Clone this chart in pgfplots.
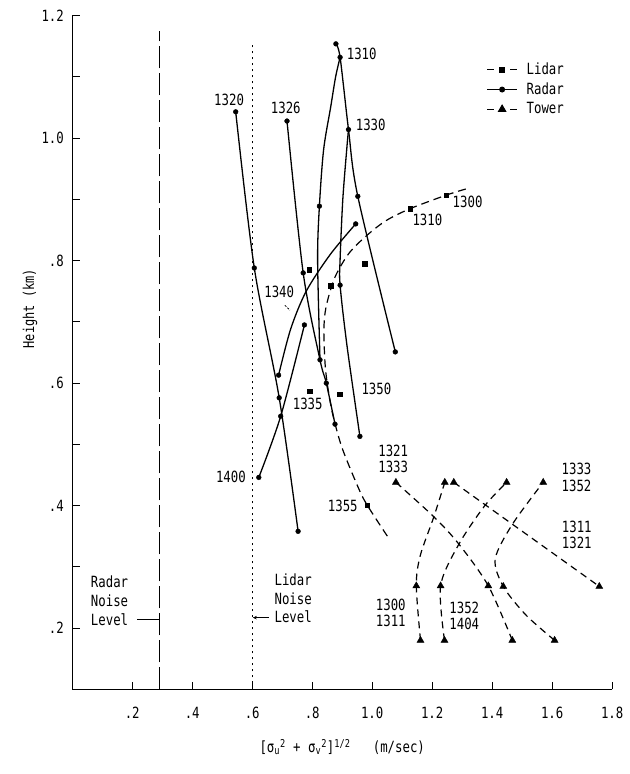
\documentclass[border=0pt]{standalone}
\usepackage{fontspec}
\setmainfont{DejaVu Sans Mono}[FakeStretch=0.8]
\usepackage{pgfplots}
\pgfplotsset{compat=1.18}
\usetikzlibrary{arrows.meta}

\begin{document}
\fontsize{15.5}{16.5}\selectfont
\begin{tikzpicture}
\useasboundingbox (-72.2bp,-84.7bp) rectangle (557.8bp,689.3bp);
\begin{axis}[
    scale only axis,
    width=540bp, height=673.6bp,
    xmin=0, xmax=1.8, ymin=0.1, ymax=1.2,
    axis lines=left,
    axis line style={-, line width=1.1bp},
    tick align=inside,
    major tick length=7.5bp, minor tick length=7.5bp,
    tick style={line width=1bp, black},
    xtick={0.2,0.4,0.6,0.8,1.0,1.2,1.4,1.6,1.8},
    xticklabels={.2,.4,.6,.8,1.0,1.2,1.4,1.6,1.8},
    ytick={0.2,0.4,0.6,0.8,1.0,1.2},
    yticklabels={.2,.4,.6,.8,1.0,1.2},
    minor ytick={0.3,0.5,0.7,0.9,1.1},
    xticklabel style={anchor=base, yshift=-29.5bp},
    yticklabel style={anchor=east, xshift=-3bp},
    xlabel={[σ\textsubscript{u}\textsuperscript{2} + σ\textsubscript{v}\textsuperscript{2}]\textsuperscript{1/2}\ \ \ (m/sec)},
    ylabel={Height (km)},
    every axis x label/.style={at={(rel axis cs:0.5,0)}, anchor=center, yshift=-58bp},
    every axis y label/.style={at={(rel axis cs:-0.078,0.565)}, rotate=90, anchor=center, font=\fontsize{15}{16}\selectfont},
    legend style={draw=none, fill=none, at={(rel axis cs:0.767,0.934)}, anchor=north west,
        inner sep=0pt, row sep=0.7bp, nodes={inner sep=2bp, text height=12bp, text depth=3bp},
        /tikz/every odd column/.style={column sep=7bp}},
    legend cell align=left,
    legend image code/.code={\draw[mark repeat=2, mark phase=2, #1] plot coordinates {(0bp,0bp) (15bp,0bp) (30bp,0bp)};},
    clip=false,
    radar/.style={black, line width=1.3bp, smooth, no marks},
    lidar/.style={black, line width=1.2bp, smooth, no marks, dash pattern=on 8bp off 5bp},
    tower/.style={black, line width=1.2bp, smooth, no marks, dash pattern=on 7bp off 5bp},
]
\addlegendimage{black, line width=1.1bp, dash pattern=on 7bp off 16bp, mark=square*, mark size=2.2bp, mark options={solid}}
\addlegendimage{black, line width=1.1bp, mark=*, mark size=2.4bp}
\addlegendimage{black, line width=1.1bp, dash pattern=on 7bp off 16bp, mark=triangle*, mark size=4bp, mark options={solid}}
\legend{Lidar, Radar, Tower}

% noise levels
\addplot[black, line width=1.2bp, dash pattern=on 22bp off 5bp] coordinates {(0.29,0.1) (0.29,1.175)};
\addplot[black, line width=1.3bp, dash pattern=on 2bp off 4bp] coordinates {(0.6,0.1) (0.6,1.152)};

% radar profiles
\addplot[radar] coordinates {(0.545,1.043) (0.607,0.788) (0.690,0.576) (0.753,0.358)};
\addplot[radar] coordinates {(0.716,1.028) (0.770,0.780) (0.826,0.638) (0.847,0.600) (0.876,0.533)};
\addplot[radar] coordinates {(0.879,1.154) (0.893,1.132) (0.921,1.014) (0.952,0.905) (1.077,0.651)};
\addplot[radar] coordinates {(0.893,1.132) (0.878,1.100) (0.862,1.052) (0.838,0.981) (0.824,0.889) (0.818,0.802) (0.826,0.638)};
\addplot[radar] coordinates {(0.921,1.014) (0.916,0.987) (0.902,0.900) (0.893,0.802) (0.893,0.760) (0.916,0.661) (0.959,0.513)};
\addplot[radar] coordinates {(0.945,0.860) (0.860,0.810) (0.780,0.750) (0.728,0.688) (0.688,0.613)};
\addplot[radar] coordinates {(0.622,0.446) (0.695,0.546) (0.774,0.695)};
\addplot[only marks, mark=*, mark size=2.4bp, black] coordinates {
  (0.545,1.043) (0.607,0.788) (0.690,0.576) (0.753,0.358)
  (0.716,1.028) (0.770,0.780) (0.826,0.638) (0.847,0.600) (0.876,0.533)
  (0.879,1.154) (0.893,1.132) (0.921,1.014) (0.952,0.905) (1.077,0.651)
  (0.824,0.889) (0.893,0.760) (0.959,0.513) (0.945,0.860) (0.688,0.613)
  (0.622,0.446) (0.695,0.546) (0.774,0.695)};

% lidar
\addplot[lidar] coordinates {(1.312,0.917) (1.247,0.907) (1.127,0.885) (1.045,0.865) (0.977,0.839)
  (0.921,0.811) (0.875,0.772) (0.846,0.724) (0.839,0.686) (0.843,0.631) (0.852,0.593)
  (0.868,0.550) (0.899,0.495) (0.953,0.430) (0.983,0.401) (1.056,0.346)};
\addplot[only marks, mark=square*, mark size=2.2bp, black] coordinates {
  (1.247,0.907) (1.127,0.885) (0.975,0.795) (0.861,0.759) (0.790,0.785)
  (0.791,0.587) (0.891,0.582) (0.983,0.401)};

% tower
\addplot[tower] coordinates {(1.161,0.180) (1.147,0.269) (1.160,0.318) (1.205,0.381) (1.242,0.438)};
\addplot[tower] coordinates {(1.241,0.180) (1.228,0.269) (1.289,0.337) (1.374,0.399) (1.448,0.438)};
\addplot[tower] coordinates {(1.608,0.180) (1.513,0.221) (1.437,0.268) (1.410,0.313) (1.468,0.370) (1.570,0.438)};
\addplot[tower] coordinates {(1.079,0.438) (1.207,0.381) (1.289,0.337) (1.387,0.269) (1.467,0.180)};
\addplot[tower, sharp plot] coordinates {(1.272,0.438) (1.757,0.268)};
\addplot[only marks, mark=triangle*, mark size=4bp, black] coordinates {
  (1.079,0.438) (1.242,0.438) (1.272,0.438) (1.448,0.438) (1.570,0.438)
  (1.147,0.269) (1.228,0.269) (1.387,0.269) (1.437,0.268) (1.757,0.268)
  (1.161,0.180) (1.241,0.180) (1.467,0.180) (1.608,0.180)};

% labels
\node at (axis cs:0.965,1.138) {1310};
\node at (axis cs:0.523,1.063) {1320};
\node at (axis cs:0.712,1.049) {1326};
\node at (axis cs:0.995,1.021) {1330};
\node at (axis cs:1.318,0.896) {1300};
\node at (axis cs:1.184,0.867) {1310};
\node at (axis cs:0.690,0.749) {1340};
\draw[line width=0.8bp, dash pattern=on 2bp off 1.5bp] (axis cs:0.709,0.727) -- (axis cs:0.726,0.719);
\node at (axis cs:1.014,0.590) {1350};
\node at (axis cs:0.785,0.566) {1335};
\node at (axis cs:0.529,0.447) {1400};
\node at (axis cs:0.902,0.400) {1355};
\node[align=center] at (axis cs:1.070,0.476) {1321\\1333};
\node[align=center] at (axis cs:1.681,0.446) {1333\\1352};
\node[align=center] at (axis cs:1.682,0.352) {1311\\1321};
\node[align=center] at (axis cs:1.062,0.225) {1300\\1311};
\node[align=center] at (axis cs:1.307,0.220) {1352\\1404};

\node[anchor=west, align=left, inner sep=0pt, font=\fontsize{15.5}{19}\selectfont] at (axis cs:0.062,0.245) {Radar\\Noise\\Level};
\draw[line width=0.8bp] (axis cs:0.217,0.2135) -- (axis cs:0.29,0.2135);
\node[anchor=west, align=left, inner sep=0pt, font=\fontsize{15.5}{18.5}\selectfont] at (axis cs:0.674,0.248) {Lidar\\Noise\\Level};
\draw[line width=0.8bp, -{Stealth[length=4bp,width=3.5bp]}] (axis cs:0.655,0.217) -- (axis cs:0.602,0.217);
\end{axis}
\end{tikzpicture}
\end{document}
